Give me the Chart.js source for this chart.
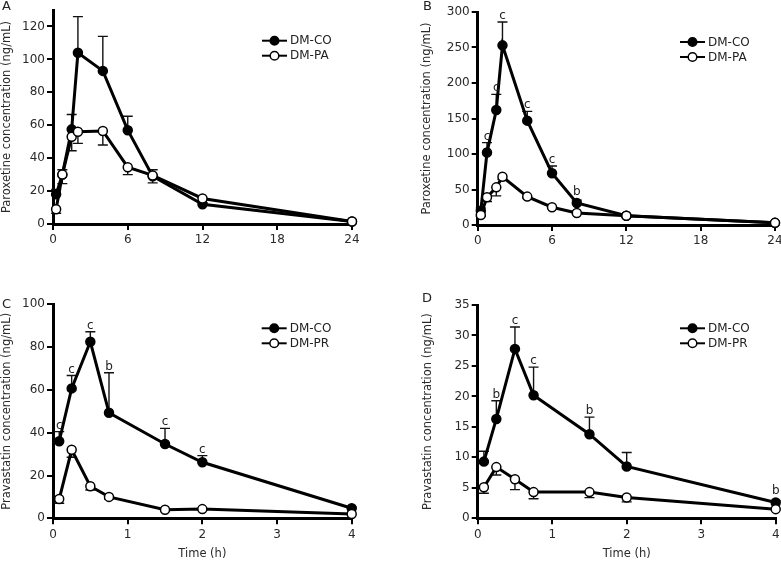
<!DOCTYPE html>
<html><head><meta charset="utf-8">
<script src="https://cdn.jsdelivr.net/npm/chart.js@4.4.1/dist/chart.umd.min.js"></script>
<style>
html,body{margin:0;padding:0;background:#fff;overflow:hidden;width:781px;height:561px;position:relative;}
canvas{position:absolute;}
.lbl{position:absolute;font-family:'DejaVu Sans';font-size:13px;color:#222;line-height:1;}
</style></head><body>
<canvas id="cA" width="390" height="265" style="left:0;top:0"></canvas>
<canvas id="cB" width="410" height="265" style="left:390px;top:0"></canvas>
<canvas id="cC" width="390" height="291" style="left:0;top:270px"></canvas>
<canvas id="cD" width="410" height="291" style="left:390px;top:270px"></canvas>
<div class="lbl" style="left:2px;top:-1px">A</div>
<div class="lbl" style="left:423px;top:-1px">B</div>
<div class="lbl" style="left:2px;top:297px">C</div>
<div class="lbl" style="left:422px;top:291px">D</div>
<script>
// ---- data ----
const timeAB = [0.25, 0.75, 1.5, 2, 4, 6, 8, 12, 24];
const coA    = [18, 30, 57.5, 104, 93, 57, 29, 12, 1.5];
const coErrA = [3, 3, 9, 22, 21, 8.5, 4, 1, 0.5];
const sigA   = ['', '', '', '', '', '', '', '', ''];
const paA    = [9, 30, 53, 56, 56.5, 34.5, 29.5, 15.5, 1.5];
const paErrA = [2.5, 5.5, 8.5, 7, 8.5, 4.5, 4.5, 0, 0];

const coB    = [20, 102, 162, 253, 147, 73, 31, 13, 3];
const coErrB = [4, 14, 22, 33, 13, 10, 4, 1, 0];
const sigB   = ['', 'c', 'c', 'c', 'c', 'c', 'b', '', ''];
const paB    = [14, 39, 53, 68, 40, 25, 17, 13, 3];
const paErrB = [2, 6, 12, 4, 2, 2, 1, 1, 0];

const timeCD = [0.083, 0.25, 0.5, 0.75, 1.5, 2, 4];
const coC    = [36, 60.7, 82.5, 49.3, 34.7, 26.2, 4.7];
const coErrC = [4.5, 6, 4.7, 18.7, 7.3, 3.1, 0.5];
const sigC   = ['c', 'c', 'c', 'b', 'c', 'c', ''];
const prC    = [9, 32, 15, 10, 4, 4.3, 2];
const prErrC = [2, 3.5, 1.8, 1, 0.5, 0.5, 0];

const coD    = [9.3, 16.3, 27.8, 20.2, 13.8, 8.5, 2.6];
const coErrD = [1.7, 3, 3.6, 4.6, 2.8, 2.3, 0.3];
const sigD   = ['', 'b', 'c', 'c', 'b', '', 'b'];
const prD    = [5.1, 8.4, 6.4, 4.3, 4.3, 3.4, 1.5];
const prErrD = [1, 1.3, 1.7, 1.1, 0.9, 0.7, 0];

const ticksAB = [0, 6, 12, 18, 24];
const ticksCD = [0, 1, 2, 3, 4];

// ---- plugins ----
Chart.defaults.font.family = 'DejaVu Sans';
Chart.defaults.color = '#2a2a2a';

const errPlugin = {
  id: 'errbars',
  beforeDatasetsDraw(chart) {
    const {ctx, scales: {x, y}} = chart;
    ctx.save();
    ctx.strokeStyle = '#111';
    ctx.lineWidth = 1.4;
    chart.data.datasets.forEach(ds => {
      if (!ds.errors) return;
      ds.data.forEach((p, i) => {
        const e = ds.errors[i];
        if (!e) return;
        const px = x.getPixelForValue(p.x);
        const py = y.getPixelForValue(p.y);
        const ey = y.getPixelForValue(p.y + ds.errDir * e);
        ctx.beginPath();
        ctx.moveTo(px, py); ctx.lineTo(px, ey);
        ctx.moveTo(px - 5, ey); ctx.lineTo(px + 5, ey);
        ctx.stroke();
      });
    });
    ctx.restore();
  },
  afterDatasetsDraw(chart) {
    const {ctx, scales: {x, y}} = chart;
    ctx.save();
    ctx.fillStyle = '#222';
    ctx.font = '12px "DejaVu Sans"';
    ctx.textAlign = 'center';
    ctx.textBaseline = 'alphabetic';
    chart.data.datasets.forEach(ds => {
      if (!ds.sig) return;
      ds.data.forEach((p, i) => {
        const s = ds.sig[i];
        if (!s) return;
        const e = ds.errors ? (ds.errors[i] || 0) : 0;
        const px = x.getPixelForValue(p.x);
        const ey = Math.min(y.getPixelForValue(p.y + e), y.getPixelForValue(p.y) - 5);
        ctx.fillText(s, px, ey - 3);
      });
    });
    ctx.restore();
  }
};

const legendPlugin = {
  id: 'inlegend',
  afterDraw(chart, args, opts) {
    const {ctx, chartArea: ca} = chart;
    const x0 = ca.right - opts.dx, y0 = ca.top + opts.dy;
    ctx.save();
    chart.data.datasets.forEach((ds, i) => {
      const yy = y0 + i * 15;
      ctx.strokeStyle = '#000'; ctx.lineWidth = 2;
      ctx.beginPath(); ctx.moveTo(x0, yy); ctx.lineTo(x0 + 25, yy); ctx.stroke();
      ctx.beginPath(); ctx.arc(x0 + 12.5, yy, 4.3, 0, Math.PI * 2);
      ctx.fillStyle = ds.pointBackgroundColor; ctx.fill();
      ctx.lineWidth = 1.5; ctx.stroke();
      ctx.fillStyle = '#222'; ctx.font = '12px "DejaVu Sans"';
      ctx.textAlign = 'left'; ctx.textBaseline = 'middle';
      ctx.fillText(ds.label, x0 + 28, yy + 0.5);
    });
    ctx.restore();
  }
};

function makeChart(id, cfg) {
  const mk = (label, times, vals, errs, dir, sig, filled, order) => ({
    label,
    data: times.map((t, i) => ({x: t, y: vals[i]})),
    errors: errs, errDir: dir, sig,
    borderColor: '#000', borderWidth: 3,
    pointRadius: 4.5, pointHoverRadius: 4.5,
    pointBackgroundColor: filled ? '#000' : '#fff',
    pointBorderColor: '#000', pointBorderWidth: 1.5,
    tension: 0, clip: false, order
  });
  return new Chart(document.getElementById(id), {
    type: 'line',
    data: {
      datasets: [
        mk('DM-CO', cfg.times, cfg.co, cfg.coErr, 1, cfg.sig, true, 1),
        mk(cfg.otherLabel, cfg.times, cfg.other, cfg.otherErr, -1, null, false, 0)
      ]
    },
    options: {
      responsive: false, animation: false, devicePixelRatio: 1, events: [],
      layout: {padding: cfg.pad},
      plugins: {legend: {display: false}, tooltip: {enabled: false},
                inlegend: cfg.leg},
      scales: {
        x: {
          type: 'linear', min: 0, max: cfg.xmax,
          afterBuildTicks: s => { s.ticks = cfg.xticks.map(v => ({value: v})); },
          afterFit: s => { s.height = cfg.xh; },
          border: {display: true, color: '#000', width: 3},
          grid: {display: true, drawOnChartArea: false, drawTicks: true, tickLength: 6, color: '#000', lineWidth: 2},
          ticks: {font: {size: 12}, padding: 3, maxRotation: 0, autoSkip: false, color: '#2a2a2a'},
          title: {display: cfg.xtitle, text: 'Time (h)', font: {size: 11.5}, padding: {top: 0, bottom: 0}, color: '#2a2a2a'}
        },
        y: {
          min: 0, max: cfg.ymax,
          ticks: {stepSize: cfg.ystep, font: {size: 12}, padding: 2, color: '#2a2a2a'},
          afterBuildTicks: s => { s.ticks = s.ticks.filter(t => t.value <= cfg.ytop); },
          afterFit: s => { s.width = cfg.yw; },
          border: {display: true, color: '#000', width: 3},
          grid: {display: true, drawOnChartArea: false, drawTicks: true, tickLength: 6, color: '#000', lineWidth: 2},
          title: {display: true, text: cfg.ytitle, font: {size: 11.5}, padding: {top: 0, bottom: 0}, color: '#2a2a2a'}
        }
      }
    },
    plugins: [errPlugin, legendPlugin]
  });
}

makeChart('cA', {times: timeAB, co: coA, coErr: coErrA, sig: sigA, other: paA, otherErr: paErrA,
  otherLabel: 'DM-PA', xmax: 24, xticks: ticksAB, ymax: 130, ytop: 120, ystep: 20,
  ytitle: 'Paroxetine concentration (ng/mL)', xtitle: false,
  pad: {left: 0, right: 38, top: 10, bottom: 0}, yw: 53, xh: 41, leg: {dx: 90, dy: 30.7}});
makeChart('cB', {times: timeAB, co: coB, coErr: coErrB, sig: sigB, other: paB, otherErr: paErrB,
  otherLabel: 'DM-PA', xmax: 24, xticks: ticksAB, ymax: 300, ytop: 300, ystep: 50,
  ytitle: 'Paroxetine concentration (ng/mL)', xtitle: false,
  pad: {left: 30.4, right: 25, top: 12, bottom: 0}, yw: 57.3, xh: 40, leg: {dx: 95, dy: 30}});
makeChart('cC', {times: timeCD, co: coC, coErr: coErrC, sig: sigC, other: prC, otherErr: prErrC,
  otherLabel: 'DM-PR', xmax: 4, xticks: ticksCD, ymax: 100, ytop: 100, ystep: 20,
  ytitle: 'Pravastatin concentration (ng/mL)', xtitle: true,
  pad: {left: 0, right: 38.3, top: 34.3, bottom: 0}, yw: 53, xh: 42.7, leg: {dx: 90, dy: 24}});
makeChart('cD', {times: timeCD, co: coD, coErr: coErrD, sig: sigD, other: prD, otherErr: prErrD,
  otherLabel: 'DM-PR', xmax: 4, xticks: ticksCD, ymax: 35, ytop: 35, ystep: 5,
  ytitle: 'Pravastatin concentration (ng/mL)', xtitle: true,
  pad: {left: 31.4, right: 24.3, top: 35, bottom: 0}, yw: 56.3, xh: 42.7, leg: {dx: 95.7, dy: 23.3}});
</script>
</body></html>
